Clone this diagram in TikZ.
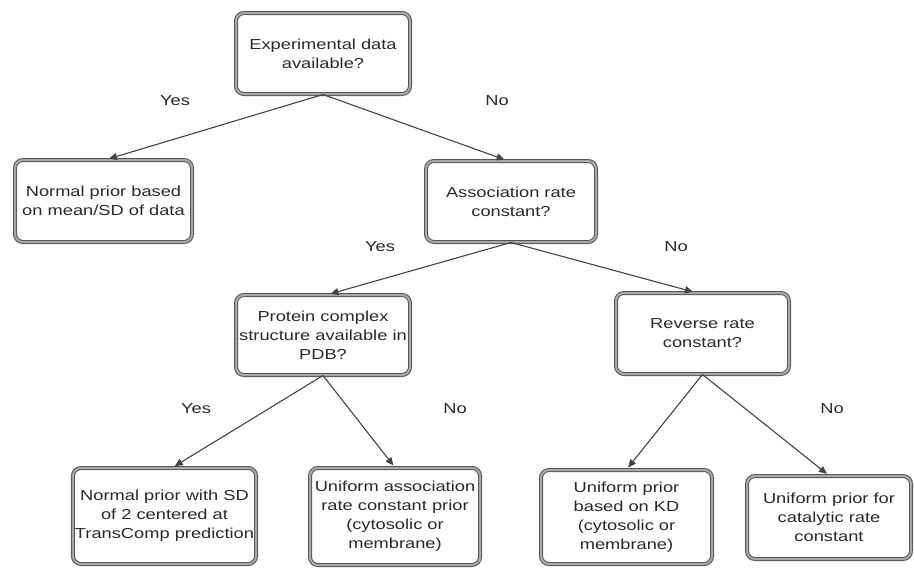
\documentclass[tikz,border=0pt]{standalone}
\usepackage{fontspec}
\setmainfont[FakeStretch=1.26]{Liberation Sans}
\usetikzlibrary{arrows.meta,shadows}
\definecolor{inkgray}{HTML}{2A2A2A}
\definecolor{linegray}{HTML}{444444}
\definecolor{rimgray}{HTML}{555555}
\definecolor{bandgray}{HTML}{A8A8A8}
\tikzset{
  decision/.style={rectangle, rounded corners=8pt, draw=rimgray, line width=1pt,
    double=bandgray, double distance=2pt, fill=white, align=center,
    text=inkgray, font=\fontsize{14.5}{19}\selectfont, inner sep=2pt,
    drop shadow={opacity=0.18, shadow xshift=1.2pt, shadow yshift=-1.5pt}},
  link/.style={draw=linegray, line width=1.1pt, shorten >=2.6pt,
    -{Triangle[length=8pt,width=7pt]}},
  answer/.style={text=inkgray, font=\fontsize{14.5}{19}\selectfont}
}
\begin{document}
\begin{tikzpicture}[x=1pt, y=-1pt]
  \useasboundingbox (0,0) rectangle (914,570);

  % question boxes
  \node[decision, minimum width=174pt, minimum height=81pt] (data) at (323,53.5)
    {Experimental data\\available?};
  \node[decision, minimum width=170pt, minimum height=81pt] (assoc) at (511,201.5)
    {Association rate\\constant?};
  \node[decision, minimum width=174pt, minimum height=80pt] (pdb) at (323,335)
    {Protein complex\\structure available in\\PDB?};
  \node[decision, minimum width=173pt, minimum height=81pt] (rev) at (702.5,333.5)
    {Reverse rate\\constant?};

  % prior boxes
  \node[decision, minimum width=177pt, minimum height=82pt] (meansd) at (103.5,201)
    {Normal prior based\\on mean/SD of data};
  \node[decision, minimum width=179pt, minimum height=96pt] (transcomp) at (164.5,516)
    {Normal prior with SD\\of 2 centered at\\TransComp prediction};
  \node[decision, minimum width=170pt, minimum height=97pt] (uassoc) at (395,516.5)
    {Uniform association\\rate constant prior\\(cytosolic or\\membrane)};
  \node[decision, minimum width=171pt, minimum height=94pt] (ukd) at (626.5,517)
    {Uniform prior\\based on KD\\(cytosolic or\\membrane)};
  \node[decision, minimum width=164pt, minimum height=83pt] (ucat) at (829,517.5)
    {Uniform prior for\\catalytic rate\\constant};

  % branches
  \draw[link] (data.south) -- ([xshift=3pt]meansd.north);
  \draw[link] (data.south) -- ([xshift=-4pt]assoc.north);
  \draw[link] (assoc.south) -- ([xshift=5pt]pdb.north);
  \draw[link] (assoc.south) -- ([xshift=-7pt]rev.north);
  \draw[link] (pdb.south) -- ([xshift=8pt]transcomp.north);
  \draw[link] (pdb.south) -- (uassoc.north);
  \draw[link] (rev.south) -- (ukd.north);
  \draw[link] (rev.south) -- (ucat.north);

  % branch answers
  \node[answer] (y1) at (175,101) {Yes};
  \node[answer] (n1) at (497,101) {No};
  \node[answer] (y2) at (380,247) {Yes};
  \node[answer] (n2) at (676,247) {No};
  \node[answer] (y3) at (196,409) {Yes};
  \node[answer] (n3) at (455,409) {No};
  \node[answer] (n4) at (832,409) {No};
\end{tikzpicture}
\end{document}
